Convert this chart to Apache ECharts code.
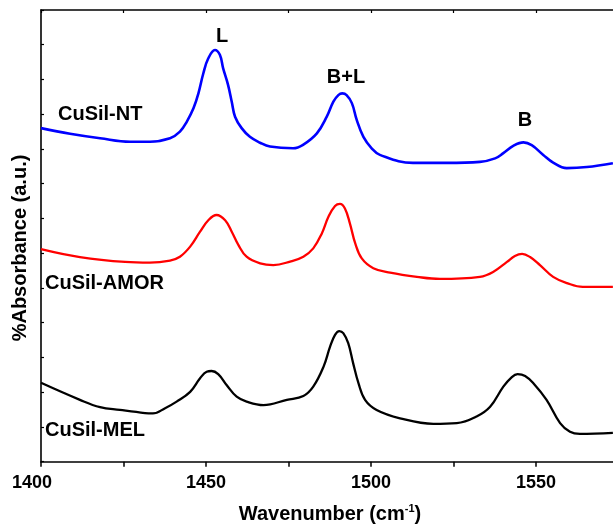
<!DOCTYPE html>
<html>
<head>
<meta charset="utf-8">
<script src="https://cdn.jsdelivr.net/npm/echarts@6/dist/echarts.min.js"></script>
<style>html,body{margin:0;padding:0;background:#fff;overflow:hidden}#c{width:613px;height:525px}</style>
</head>
<body>
<div id="c"></div>
<script>
// CuSil-NT (blue)
var ntX = [1400.0,1408.8,1417.9,1427.0,1433.0,1439.1,1442.1,1444.2,1446.2,1447.7,1449.2,1450.7,1452.7,1454.2,1455.2,1456.7,1457.8,1458.8,1460.8,1463.3,1466.4,1469.4,1476.4,1479.4,1483.6,1486.6,1488.6,1490.1,1491.3,1492.6,1494.2,1495.7,1497.7,1500.2,1502.7,1512.7,1523.0,1533.0,1537.6,1540.1,1543.1,1546.2,1548.7,1552.2,1555.2,1559.3,1565.4,1573.3];
var ntY = [9.60,9.44,9.31,9.21,9.21,9.31,9.50,9.79,10.17,10.60,11.18,11.61,11.85,11.71,11.32,10.84,10.36,9.93,9.60,9.35,9.18,9.07,9.02,9.12,9.45,9.93,10.36,10.55,10.60,10.55,10.32,9.83,9.35,9.02,8.83,8.60,8.60,8.63,8.73,8.88,9.09,9.19,9.11,8.83,8.61,8.45,8.48,8.59];
// CuSil-AMOR (red)
var amorX = [1400.0,1411.8,1425.5,1433.0,1439.1,1442.1,1445.2,1448.2,1450.7,1453.2,1455.8,1457.8,1459.8,1462.3,1466.4,1470.4,1475.5,1479.5,1482.5,1485.1,1487.1,1489.1,1490.6,1492.1,1493.6,1495.2,1497.2,1500.7,1505.8,1513.9,1520.9,1533.0,1537.0,1541.2,1543.6,1545.8,1548.2,1551.2,1555.2,1559.4,1564.2,1573.3];
var amorY = [6.12,5.89,5.75,5.73,5.79,5.90,6.19,6.62,6.95,7.10,6.95,6.62,6.24,5.90,5.71,5.66,5.76,5.90,6.14,6.57,7.05,7.36,7.42,7.29,6.86,6.29,5.85,5.57,5.44,5.32,5.26,5.32,5.46,5.75,5.92,5.98,5.89,5.66,5.32,5.14,5.03,5.03];
// CuSil-MEL (black)
var melX = [1400.0,1411.8,1417.9,1423.9,1431.5,1433.9,1437.6,1441.1,1445.2,1448.2,1450.2,1451.7,1453.7,1456.3,1459.3,1462.3,1467.4,1474.5,1479.5,1482.5,1485.6,1487.6,1489.1,1490.4,1491.6,1493.1,1494.6,1496.2,1498.2,1501.7,1508.8,1518.9,1526.0,1532.0,1536.1,1540.1,1542.6,1544.4,1546.7,1549.2,1553.2,1557.3,1560.3,1563.3,1573.3];
var melY = [2.27,1.78,1.57,1.49,1.40,1.39,1.54,1.73,2.01,2.40,2.59,2.61,2.52,2.20,1.87,1.73,1.63,1.78,1.89,2.16,2.73,3.31,3.65,3.76,3.70,3.41,2.83,2.26,1.78,1.49,1.25,1.09,1.11,1.30,1.58,2.16,2.43,2.52,2.47,2.26,1.78,1.11,0.86,0.80,0.83];

var xTickLabels = [1400,1450,1500,1550];
var seriesNames = ['CuSil-NT','CuSil-AMOR','CuSil-MEL'];
var peakLabels = ['L','B+L','B'];

function zip(a,b){var r=[];for(var i=0;i<a.length;i++)r.push([a[i],b[i]]);return r;}

var chart = echarts.init(document.getElementById('c'));
var FONT = '"Liberation Sans", Arial, sans-serif';
var lab = function(t,x,y,align){return {type:'text',x:x,y:y,style:{text:t,font:'bold 20px '+FONT,fill:'#000',textAlign:align||'left',textVerticalAlign:'middle'}};};

chart.setOption({
  animation:false,
  grid:{left:41,top:10,width:577.5,height:451.7,containLabel:false,outerBoundsMode:'none'},
  xAxis:[{
    type:'value',min:1400,max:1575,interval:25,position:'bottom',
    axisLine:{onZero:false,lineStyle:{color:'#000',width:1.6}},
    axisTick:{inside:false,length:5,lineStyle:{color:'#000',width:1.5}},
    axisLabel:{margin:12,color:'#000',fontFamily:FONT,fontWeight:'bold',fontSize:18,
      formatter:function(v){if(xTickLabels.indexOf(v)<0)return '';return v===xTickLabels[0]?'{m|'+v+'}':String(v);},
      rich:{m:{fontFamily:FONT,fontWeight:'bold',fontSize:18,color:'#000',padding:[0,18,0,0]}}},
    splitLine:{show:false}
  },{
    type:'value',min:1400,max:1575,interval:25,position:'top',
    axisLine:{onZero:false,lineStyle:{color:'#000',width:1.6}},
    axisTick:{inside:true,length:3,lineStyle:{color:'#000',width:1.2}},
    axisLabel:{show:false},splitLine:{show:false}
  }],
  yAxis:{
    type:'value',min:0,max:13,interval:1,
    axisLine:{show:true,onZero:false,lineStyle:{color:'#000',width:1.6}},
    axisTick:{show:true,inside:true,length:3,lineStyle:{color:'#000',width:1.2}},
    axisLabel:{show:false},splitLine:{show:false}
  },
  series:[
    {name:seriesNames[0],type:'line',data:zip(ntX,ntY),showSymbol:false,smooth:0.4,lineStyle:{color:'#0000ff',width:2.6}},
    {name:seriesNames[1],type:'line',data:zip(amorX,amorY),showSymbol:false,smooth:0.4,lineStyle:{color:'#ff0000',width:2.3}},
    {name:seriesNames[2],type:'line',data:zip(melX,melY),showSymbol:false,smooth:0.4,lineStyle:{color:'#000000',width:2.3}}
  ],
  graphic:[
    lab(seriesNames[0],58,114),
    lab(seriesNames[1],45,283),
    lab(seriesNames[2],45,430),
    lab(peakLabels[0],222,36,'center'),
    lab(peakLabels[1],346,77,'center'),
    lab(peakLabels[2],525,120,'center'),
    {type:'text',x:20,y:248,rotation:Math.PI/2,style:{text:'%Absorbance (a.u.)',font:'bold 20px '+FONT,fill:'#000',textAlign:'center',textVerticalAlign:'middle'}},
    {type:'text',x:330,y:514,style:{
      text:'{a|Wavenumber (cm}{s|-1}{a|)}',textAlign:'center',textVerticalAlign:'middle',
      rich:{a:{font:'bold 20px '+FONT,fill:'#000',color:'#000',lineHeight:22},
            s:{font:'bold 11px '+FONT,fill:'#000',color:'#000',verticalAlign:'top',lineHeight:22,padding:[0,0,10,0]}}}}
  ]
});
</script>
</body>
</html>
